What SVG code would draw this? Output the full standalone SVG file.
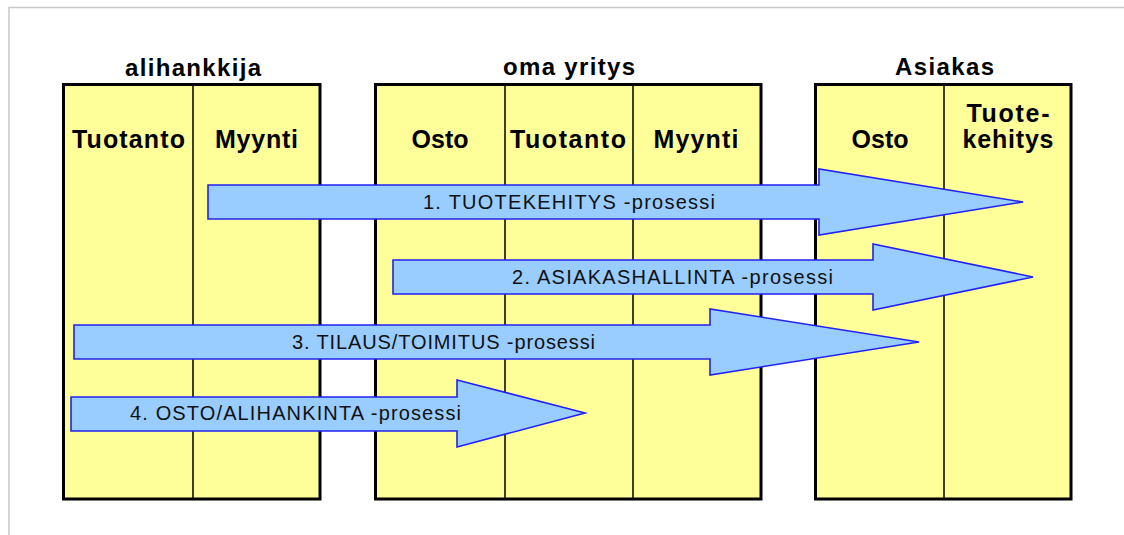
<svg xmlns="http://www.w3.org/2000/svg" width="1124" height="535" viewBox="0 0 1124 535">
  <style>
    .frame { fill: none; stroke: #c8c8c8; stroke-width: 1.5; }
    .box { fill: #ffff99; stroke: #000; stroke-width: 3; }
    .div { stroke: #000; stroke-width: 1.5; }
    .head { font-family: "Liberation Sans", Arial, sans-serif; font-weight: bold; font-size: 24px; fill: #000; text-anchor: middle; }
    .lane { font-family: "Liberation Sans", Arial, sans-serif; font-weight: bold; font-size: 25px; fill: #000; text-anchor: middle; }
    .arrow { fill: #99ccff; stroke: #2222ee; stroke-width: 1.6; stroke-linejoin: miter; }
    .alabel { font-family: "Liberation Sans", Arial, sans-serif; font-size: 20px; fill: #111; }
  </style>
  <rect width="1124" height="535" fill="#fff"/>
  <!-- page frame -->
  <path class="frame" d="M9,535 V7.5 H1124"/>

  <!-- subcontractor -->
  <g id="alihankkija">
    <text class="head" x="193" y="76" textLength="136" lengthAdjust="spacing">alihankkija</text>
    <rect class="box" x="63.5" y="84.5" width="256.5" height="414.5"/>
    <line class="div" x1="193" y1="84.5" x2="193" y2="499"/>
    <text class="lane" x="128.5" y="148" textLength="113" lengthAdjust="spacing">Tuotanto</text>
    <text class="lane" x="256.5" y="148" textLength="83" lengthAdjust="spacing">Myynti</text>
  </g>

  <!-- own company -->
  <g id="oma-yritys">
    <text class="head" x="569" y="75" textLength="132" lengthAdjust="spacing">oma yritys</text>
    <rect class="box" x="375.5" y="84.5" width="385.5" height="414.5"/>
    <line class="div" x1="505" y1="84.5" x2="505" y2="499"/>
    <line class="div" x1="633" y1="84.5" x2="633" y2="499"/>
    <text class="lane" x="440" y="148" textLength="57" lengthAdjust="spacing">Osto</text>
    <text class="lane" x="568" y="148" textLength="116" lengthAdjust="spacing">Tuotanto</text>
    <text class="lane" x="696" y="148" textLength="85" lengthAdjust="spacing">Myynti</text>
  </g>

  <!-- customer -->
  <g id="asiakas">
    <text class="head" x="944.5" y="75" textLength="99" lengthAdjust="spacing">Asiakas</text>
    <rect class="box" x="815.5" y="84.5" width="255.5" height="414.5"/>
    <line class="div" x1="944" y1="84.5" x2="944" y2="499"/>
    <text class="lane" x="880" y="148" textLength="57" lengthAdjust="spacing">Osto</text>
    <text class="lane" x="1008" y="122" textLength="83" lengthAdjust="spacing">Tuote-</text>
    <text class="lane" x="1008" y="148" textLength="91" lengthAdjust="spacing">kehitys</text>
  </g>

  <!-- process arrows -->
  <g id="connectors">
    <g id="p1">
      <path class="arrow" d="M208,185 H819 V169 L1023,202 L819,235 V219 H208 Z"/>
      <text class="alabel" x="423" y="209" textLength="292" lengthAdjust="spacing">1. TUOTEKEHITYS -prosessi</text>
    </g>
    <g id="p2">
      <path class="arrow" d="M393,260 H873 V244 L1033,277 L873,310 V294 H393 Z"/>
      <text class="alabel" x="512" y="284" textLength="321" lengthAdjust="spacing">2. ASIAKASHALLINTA -prosessi</text>
    </g>
    <g id="p3">
      <path class="arrow" d="M74,325 H710 V309 L919,342 L710,375 V359 H74 Z"/>
      <text class="alabel" x="292" y="349" textLength="303" lengthAdjust="spacing">3. TILAUS/TOIMITUS -prosessi</text>
    </g>
    <g id="p4">
      <path class="arrow" d="M71,397 H457 V380 L585,413 L457,447 V431 H71 Z"/>
      <text class="alabel" x="130" y="420" textLength="331" lengthAdjust="spacing">4. OSTO/ALIHANKINTA -prosessi</text>
    </g>
  </g>
</svg>
